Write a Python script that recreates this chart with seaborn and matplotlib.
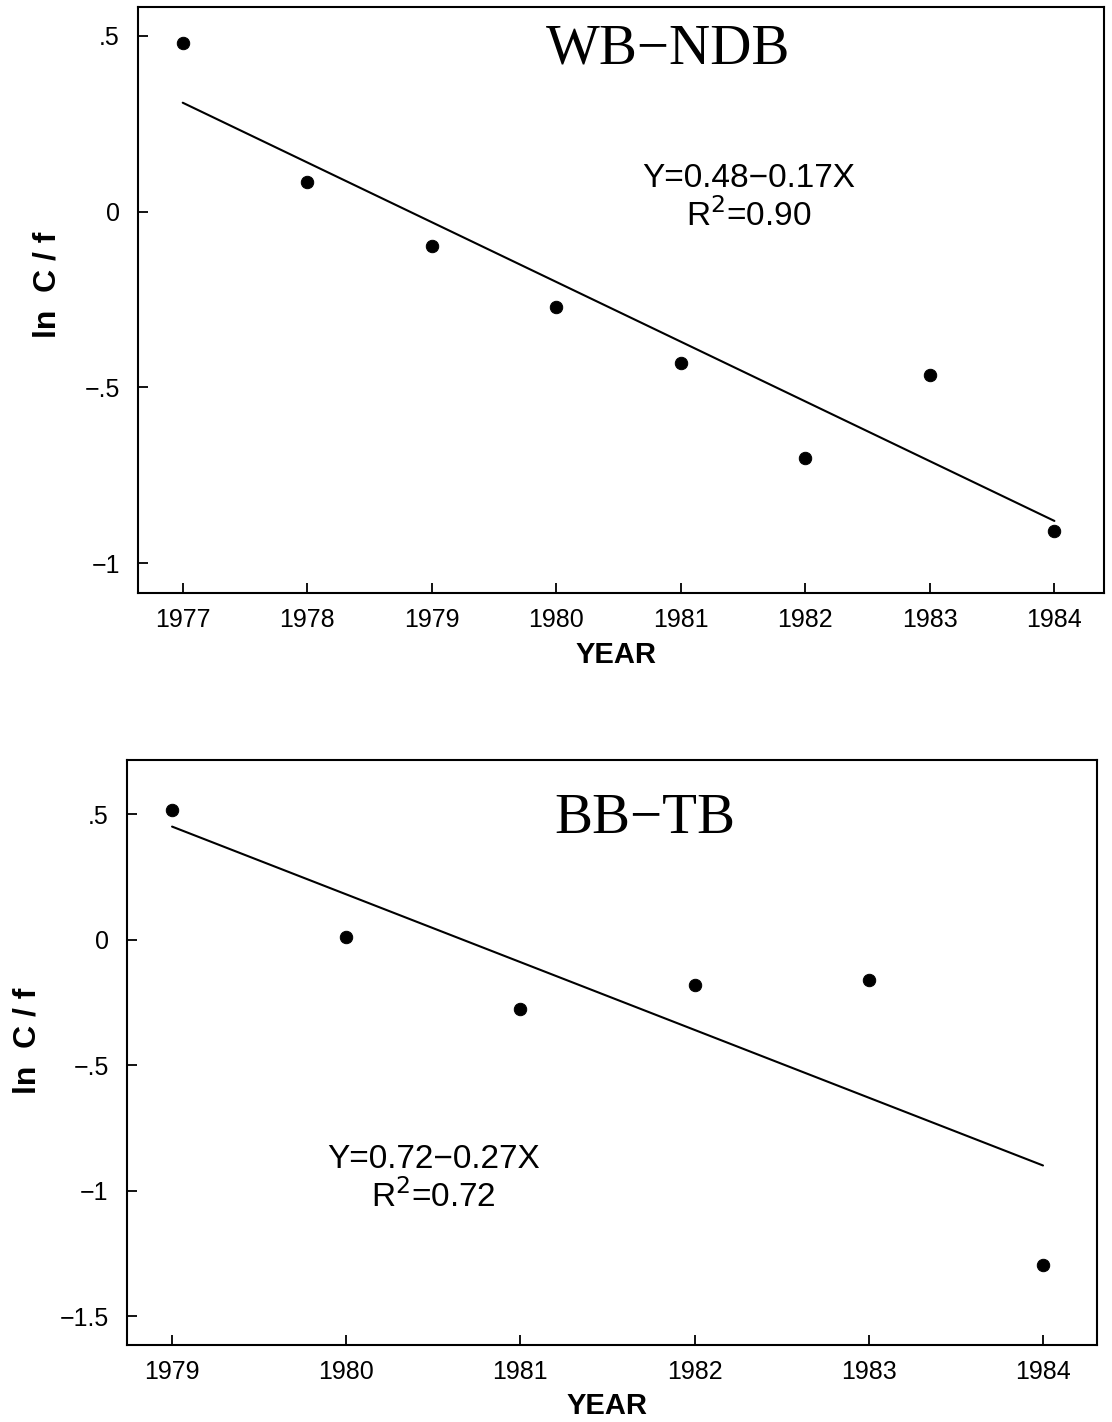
# ln C/f against year for two stocks, with fitted regression lines
import numpy as np
import pandas as pd
import matplotlib
matplotlib.use("Agg")
import matplotlib.pyplot as plt
import seaborn as sns

# top panel data (WB-NDB)
years_wb = [1977, 1978, 1979, 1980, 1981, 1982, 1983, 1984]
lncf_wb = [0.48, 0.085, -0.097, -0.27, -0.43, -0.70, -0.466, -0.91]
fit_wb = (0.48, -0.17)   # intercept, slope (X = 1 for first year)
eq_wb = ["Y=0.48\u22120.17X", "R$^2$=0.90"]

# bottom panel data (BB-TB)
years_bb = [1979, 1980, 1981, 1982, 1983, 1984]
lncf_bb = [0.516, 0.012, -0.275, -0.18, -0.163, -1.295]
fit_bb = (0.72, -0.27)
eq_bb = ["Y=0.72\u22120.27X", "R$^2$=0.72"]

yticks_wb = [0.5, 0, -0.5, -1]
ylabels_wb = [".5", "0", "\u2212.5", "\u22121"]
yticks_bb = [0.5, 0, -0.5, -1, -1.5]
ylabels_bb = [".5", "0", "\u2212.5", "\u22121", "\u22121.5"]

sns.set_style("white")
plt.rcParams['font.family'] = ['Liberation Sans', 'DejaVu Sans']
plt.rcParams['text.color'] = 'black'
plt.rcParams['axes.labelcolor'] = 'black'

fig = plt.figure(figsize=(11.12, 14.22), dpi=100)
ax1 = fig.add_axes([0.124, 0.583, 0.869, 0.412])
ax2 = fig.add_axes([0.114, 0.054, 0.8725, 0.4115])


def draw_panel(ax, years, vals, fit, eq, yticks, ylabels, title,
               xlim, ylim, title_xy, eq_xy, ylab_x, ylab_y, xlab_y):
    df = pd.DataFrame({"year": years, "lncf": vals})
    df["X"] = df["year"] - years[0] + 1
    df["fit"] = fit[0] + fit[1] * df["X"]
    sns.scatterplot(data=df, x="year", y="lncf", ax=ax, color="black",
                    s=80, edgecolor="black", zorder=3)
    sns.lineplot(data=df, x="year", y="fit", ax=ax, color="black", lw=1.5)
    ax.set_xlim(*xlim)
    ax.set_ylim(*ylim)
    ax.set_xticks(years)
    ax.set_xticklabels([str(y) for y in years])
    ax.set_yticks(yticks)
    ax.set_yticklabels(ylabels)
    ax.tick_params(direction="in", length=7, width=1.3, labelsize=18,
                   colors="black", bottom=True, left=True)
    ax.tick_params(axis="y", pad=13)
    ax.tick_params(axis="x", pad=11)
    for sp in ax.spines.values():
        sp.set_color("black")
        sp.set_linewidth(1.5)
    ax.set_xlabel("YEAR", fontsize=21, fontweight="bold")
    ax.set_ylabel("ln  C / f", fontsize=23, fontweight="bold")
    ax.xaxis.set_label_coords(0.495, xlab_y)
    ax.yaxis.set_label_coords(ylab_x, ylab_y)
    ax.text(title_xy[0], title_xy[1], title, transform=ax.transAxes,
            ha="center", va="center", fontsize=41,
            family=["Liberation Serif", "DejaVu Serif"])
    ax.text(eq_xy[0], eq_xy[1], eq[0] + "\n" + eq[1], transform=ax.transAxes,
            ha="center", va="center", fontsize=24, linespacing=1.15)


draw_panel(ax1, years_wb, lncf_wb, fit_wb, eq_wb, yticks_wb, ylabels_wb,
           "WB\u2212NDB", (1976.64, 1984.40), (-1.085, 0.582),
           (0.549, 0.928), (0.632, 0.674), -0.078, 0.526, -0.082)
draw_panel(ax2, years_bb, lncf_bb, fit_bb, eq_bb, yticks_bb, ylabels_bb,
           "BB\u2212TB", (1978.74, 1984.31), (-1.616, 0.715),
           (0.534, 0.899), (0.316, 0.284), -0.087, 0.521, -0.08)

fig.savefig("out.png", dpi=100)
